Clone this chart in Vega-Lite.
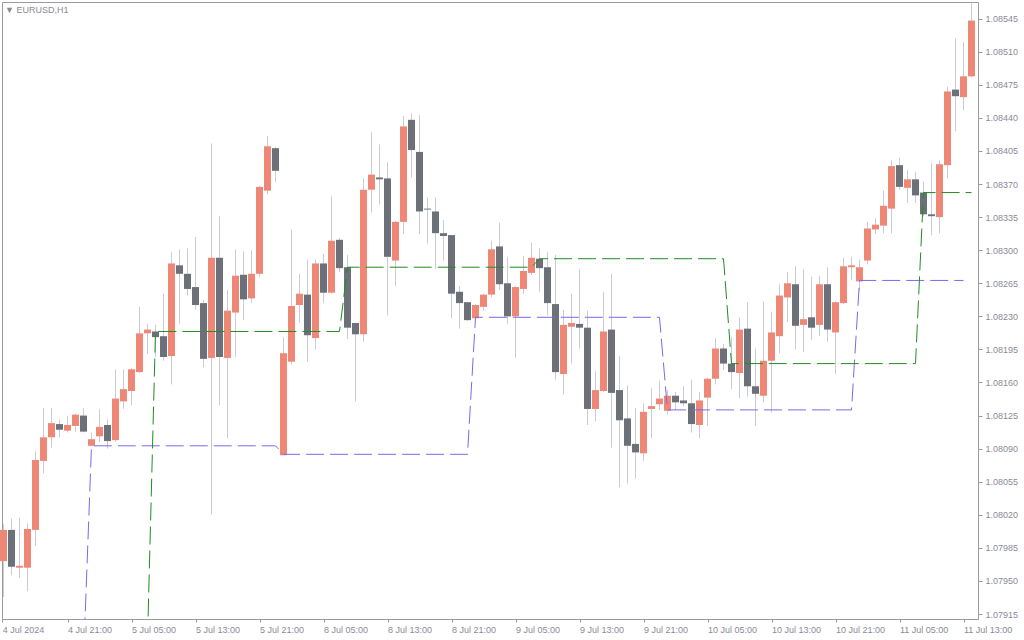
{
  "$schema": "https://vega.github.io/schema/vega-lite/v6.json",
  "width": 976,
  "height": 617,
  "autosize": "none",
  "padding": {"left": 2, "top": 2, "right": 46, "bottom": 21},
  "background": "#ffffff",
  "title": {"text": "▼  EURUSD,H1", "anchor": "start", "frame": "group", "offset": -13, "dx": 3, "fontSize": 9, "fontWeight": "normal", "font": "Liberation Sans", "color": "#8a8a96"},
  "datasets": {
    "candles": [
      {"i":0,"o":1.07971,"h":1.08010,"l":1.07933,"c":1.08004},
      {"i":1,"o":1.08004,"h":1.08016,"l":1.07956,"c":1.07965},
      {"i":2,"o":1.07964,"h":1.08017,"l":1.07953,"c":1.07966},
      {"i":3,"o":1.07964,"h":1.08011,"l":1.07939,"c":1.08005},
      {"i":4,"o":1.08004,"h":1.08087,"l":1.07987,"c":1.08078},
      {"i":5,"o":1.08077,"h":1.08133,"l":1.08064,"c":1.08102},
      {"i":6,"o":1.08102,"h":1.08133,"l":1.08091,"c":1.08117},
      {"i":7,"o":1.08116,"h":1.08121,"l":1.08102,"c":1.08110},
      {"i":8,"o":1.08109,"h":1.08125,"l":1.08107,"c":1.08115},
      {"i":9,"o":1.08114,"h":1.08127,"l":1.08108,"c":1.08126},
      {"i":10,"o":1.08125,"h":1.08133,"l":1.08107,"c":1.08108},
      {"i":11,"o":1.08093,"h":1.08107,"l":1.08093,"c":1.08100},
      {"i":12,"o":1.08103,"h":1.08132,"l":1.08097,"c":1.08113},
      {"i":13,"o":1.08115,"h":1.08121,"l":1.08090,"c":1.08098},
      {"i":14,"o":1.08099,"h":1.08174,"l":1.08097,"c":1.08143},
      {"i":15,"o":1.08140,"h":1.08174,"l":1.08132,"c":1.08153},
      {"i":16,"o":1.08151,"h":1.08175,"l":1.08136,"c":1.08174},
      {"i":17,"o":1.08171,"h":1.08240,"l":1.08170,"c":1.08212},
      {"i":18,"o":1.08212,"h":1.08222,"l":1.08190,"c":1.08216},
      {"i":19,"o":1.08214,"h":1.08221,"l":1.08187,"c":1.08208},
      {"i":20,"o":1.08209,"h":1.08254,"l":1.08183,"c":1.08187},
      {"i":21,"o":1.08188,"h":1.08298,"l":1.08158,"c":1.08286},
      {"i":22,"o":1.08284,"h":1.08301,"l":1.08222,"c":1.08275},
      {"i":23,"o":1.08275,"h":1.08302,"l":1.08252,"c":1.08259},
      {"i":24,"o":1.08261,"h":1.08314,"l":1.08237,"c":1.08242},
      {"i":25,"o":1.08244,"h":1.08247,"l":1.08176,"c":1.08185},
      {"i":26,"o":1.08186,"h":1.08413,"l":1.08020,"c":1.08292},
      {"i":27,"o":1.08292,"h":1.08336,"l":1.08136,"c":1.08187},
      {"i":28,"o":1.08186,"h":1.08258,"l":1.08101,"c":1.08236},
      {"i":29,"o":1.08234,"h":1.08301,"l":1.08187,"c":1.08273},
      {"i":30,"o":1.08274,"h":1.08299,"l":1.08226,"c":1.08248},
      {"i":31,"o":1.08249,"h":1.08300,"l":1.08244,"c":1.08275},
      {"i":32,"o":1.08275,"h":1.08368,"l":1.08271,"c":1.08367},
      {"i":33,"o":1.08363,"h":1.08421,"l":1.08359,"c":1.08410},
      {"i":34,"o":1.08408,"h":1.08409,"l":1.08372,"c":1.08384},
      {"i":35,"o":1.08083,"h":1.08208,"l":1.08083,"c":1.08191},
      {"i":36,"o":1.08182,"h":1.08322,"l":1.08179,"c":1.08241},
      {"i":37,"o":1.08242,"h":1.08275,"l":1.08223,"c":1.08254},
      {"i":38,"o":1.08253,"h":1.08290,"l":1.08182,"c":1.08210},
      {"i":39,"o":1.08207,"h":1.08290,"l":1.08195,"c":1.08286},
      {"i":40,"o":1.08286,"h":1.08296,"l":1.08244,"c":1.08255},
      {"i":41,"o":1.08255,"h":1.08357,"l":1.08254,"c":1.08310},
      {"i":42,"o":1.08311,"h":1.08313,"l":1.08277,"c":1.08281},
      {"i":43,"o":1.08282,"h":1.08295,"l":1.08206,"c":1.08218},
      {"i":44,"o":1.08223,"h":1.08223,"l":1.08140,"c":1.08211},
      {"i":45,"o":1.08211,"h":1.08376,"l":1.08203,"c":1.08364},
      {"i":46,"o":1.08364,"h":1.08425,"l":1.08340,"c":1.08380},
      {"i":47,"o":1.08377,"h":1.08412,"l":1.08348,"c":1.08375},
      {"i":48,"o":1.08376,"h":1.08393,"l":1.08231,"c":1.08293},
      {"i":49,"o":1.08289,"h":1.08331,"l":1.08262,"c":1.08330},
      {"i":50,"o":1.08330,"h":1.08442,"l":1.08317,"c":1.08431},
      {"i":51,"o":1.08438,"h":1.08445,"l":1.08377,"c":1.08406},
      {"i":52,"o":1.08404,"h":1.08443,"l":1.08317,"c":1.08341},
      {"i":53,"o":1.08344,"h":1.08356,"l":1.08307,"c":1.08343},
      {"i":54,"o":1.08341,"h":1.08356,"l":1.08280,"c":1.08318},
      {"i":55,"o":1.08318,"h":1.08332,"l":1.08289,"c":1.08315},
      {"i":56,"o":1.08316,"h":1.08316,"l":1.08228,"c":1.08254},
      {"i":57,"o":1.08256,"h":1.08262,"l":1.08217,"c":1.08244},
      {"i":58,"o":1.08245,"h":1.08245,"l":1.08225,"c":1.08226},
      {"i":59,"o":1.08228,"h":1.08243,"l":1.08226,"c":1.08242},
      {"i":60,"o":1.08240,"h":1.08254,"l":1.08236,"c":1.08253},
      {"i":61,"o":1.08253,"h":1.08310,"l":1.08250,"c":1.08301},
      {"i":62,"o":1.08304,"h":1.08329,"l":1.08258,"c":1.08264},
      {"i":63,"o":1.08265,"h":1.08293,"l":1.08222,"c":1.08230},
      {"i":64,"o":1.08230,"h":1.08262,"l":1.08186,"c":1.08261},
      {"i":65,"o":1.08259,"h":1.08294,"l":1.08254,"c":1.08278},
      {"i":66,"o":1.08276,"h":1.08308,"l":1.08274,"c":1.08292},
      {"i":67,"o":1.08291,"h":1.08302,"l":1.08256,"c":1.08281},
      {"i":68,"o":1.08282,"h":1.08298,"l":1.08231,"c":1.08244},
      {"i":69,"o":1.08243,"h":1.08295,"l":1.08163,"c":1.08171},
      {"i":70,"o":1.08169,"h":1.08237,"l":1.08147,"c":1.08221},
      {"i":71,"o":1.08219,"h":1.08254,"l":1.08180,"c":1.08223},
      {"i":72,"o":1.08222,"h":1.08280,"l":1.08196,"c":1.08218},
      {"i":73,"o":1.08218,"h":1.08236,"l":1.08115,"c":1.08132},
      {"i":74,"o":1.08132,"h":1.08172,"l":1.08119,"c":1.08152},
      {"i":75,"o":1.08151,"h":1.08256,"l":1.08150,"c":1.08214},
      {"i":76,"o":1.08216,"h":1.08275,"l":1.08091,"c":1.08149},
      {"i":77,"o":1.08152,"h":1.08188,"l":1.08049,"c":1.08120},
      {"i":78,"o":1.08122,"h":1.08157,"l":1.08053,"c":1.08093},
      {"i":79,"o":1.08095,"h":1.08133,"l":1.08058,"c":1.08086},
      {"i":80,"o":1.08085,"h":1.08138,"l":1.08077,"c":1.08129},
      {"i":81,"o":1.08132,"h":1.08154,"l":1.08101,"c":1.08135},
      {"i":82,"o":1.08137,"h":1.08162,"l":1.08131,"c":1.08143},
      {"i":83,"o":1.08130,"h":1.08152,"l":1.08126,"c":1.08146},
      {"i":84,"o":1.08146,"h":1.08150,"l":1.08131,"c":1.08139},
      {"i":85,"o":1.08141,"h":1.08156,"l":1.08135,"c":1.08138},
      {"i":86,"o":1.08138,"h":1.08163,"l":1.08107,"c":1.08116},
      {"i":87,"o":1.08115,"h":1.08150,"l":1.08101,"c":1.08141},
      {"i":88,"o":1.08144,"h":1.08165,"l":1.08114,"c":1.08164},
      {"i":89,"o":1.08164,"h":1.08207,"l":1.08158,"c":1.08196},
      {"i":90,"o":1.08196,"h":1.08201,"l":1.08173,"c":1.08180},
      {"i":91,"o":1.08180,"h":1.08208,"l":1.08153,"c":1.08171},
      {"i":92,"o":1.08170,"h":1.08229,"l":1.08143,"c":1.08216},
      {"i":93,"o":1.08217,"h":1.08245,"l":1.08145,"c":1.08156},
      {"i":94,"o":1.08156,"h":1.08196,"l":1.08114,"c":1.08148},
      {"i":95,"o":1.08146,"h":1.08246,"l":1.08139,"c":1.08183},
      {"i":96,"o":1.08183,"h":1.08235,"l":1.08128,"c":1.08213},
      {"i":97,"o":1.08209,"h":1.08264,"l":1.08191,"c":1.08252},
      {"i":98,"o":1.08250,"h":1.08277,"l":1.08224,"c":1.08265},
      {"i":99,"o":1.08264,"h":1.08283,"l":1.08195,"c":1.08220},
      {"i":100,"o":1.08221,"h":1.08280,"l":1.08192,"c":1.08227},
      {"i":101,"o":1.08229,"h":1.08272,"l":1.08205,"c":1.08218},
      {"i":102,"o":1.08221,"h":1.08273,"l":1.08209,"c":1.08264},
      {"i":103,"o":1.08264,"h":1.08282,"l":1.08203,"c":1.08216},
      {"i":104,"o":1.08213,"h":1.08246,"l":1.08169,"c":1.08245},
      {"i":105,"o":1.08244,"h":1.08292,"l":1.08243,"c":1.08283},
      {"i":106,"o":1.08282,"h":1.08293,"l":1.08268,"c":1.08284},
      {"i":107,"o":1.08267,"h":1.08290,"l":1.08257,"c":1.08282},
      {"i":108,"o":1.08289,"h":1.08330,"l":1.08285,"c":1.08323},
      {"i":109,"o":1.08322,"h":1.08334,"l":1.08317,"c":1.08327},
      {"i":110,"o":1.08326,"h":1.08363,"l":1.08318,"c":1.08347},
      {"i":111,"o":1.08344,"h":1.08395,"l":1.08318,"c":1.08389},
      {"i":112,"o":1.08390,"h":1.08398,"l":1.08364,"c":1.08367},
      {"i":113,"o":1.08366,"h":1.08385,"l":1.08350,"c":1.08375},
      {"i":114,"o":1.08375,"h":1.08383,"l":1.08350,"c":1.08358},
      {"i":115,"o":1.08361,"h":1.08373,"l":1.08336,"c":1.08338},
      {"i":116,"o":1.08338,"h":1.08392,"l":1.08316,"c":1.08336},
      {"i":117,"o":1.08335,"h":1.08395,"l":1.08318,"c":1.08391},
      {"i":118,"o":1.08390,"h":1.08473,"l":1.08376,"c":1.08468},
      {"i":119,"o":1.08470,"h":1.08524,"l":1.08426,"c":1.08463},
      {"i":120,"o":1.08462,"h":1.08520,"l":1.08448,"c":1.08484},
      {"i":121,"o":1.08484,"h":1.08562,"l":1.08483,"c":1.08543}
    ],
    "lines": [
      {"s":"sup","i":10,"v":1.07867},
      {"s":"sup","i":11,"v":1.08093},
      {"s":"sup","i":34,"v":1.08093},
      {"s":"sup","i":35,"v":1.08084},
      {"s":"sup","i":58,"v":1.08084},
      {"s":"sup","i":59,"v":1.08229},
      {"s":"sup","i":82,"v":1.08229},
      {"s":"sup","i":83,"v":1.08131},
      {"s":"sup","i":106,"v":1.08131},
      {"s":"sup","i":107,"v":1.08268},
      {"s":"sup","i":120,"v":1.08268},
      {"s":"res","i":18,"v":1.07887},
      {"s":"res","i":19,"v":1.08214},
      {"s":"res","i":42,"v":1.08214},
      {"s":"res","i":43,"v":1.08282},
      {"s":"res","i":66,"v":1.08282},
      {"s":"res","i":67,"v":1.08291},
      {"s":"res","i":90,"v":1.08291},
      {"s":"res","i":91,"v":1.08180},
      {"s":"res","i":114,"v":1.08180},
      {"s":"res","i":115,"v":1.08361},
      {"s":"res","i":121,"v":1.08361}
    ]
  },
  "encoding": {
    "x": {
      "field": "i",
      "type": "quantitative",
      "scale": {"domain": [-0.1875, 121.8125], "nice": false, "zero": false, "padding": 0},
      "axis": {
        "orient": "bottom",
        "title": null,
        "grid": false,
        "values": [-0.15, 8, 16, 24, 32, 40, 48, 56, 64, 72, 80, 88, 96, 104, 112, 120],
        "labelExpr": "['4 Jul 2024','4 Jul 21:00','5 Jul 05:00','5 Jul 13:00','5 Jul 21:00','8 Jul 05:00','8 Jul 13:00','8 Jul 21:00','9 Jul 05:00','9 Jul 13:00','9 Jul 21:00','10 Jul 05:00','10 Jul 13:00','10 Jul 21:00','11 Jul 05:00','11 Jul 13:00'][round(datum.value / 8)]",
        "labelAlign": "left",
        "labelBaseline": "top",
        "tickSize": 3,
        "labelPadding": 3,
        "labelFlush": false,
        "labelOverlap": false
      }
    }
  },
  "layer": [
    {
      "data": {"name": "candles"},
      "mark": {"type": "rule", "color": "#c8ccd4", "strokeWidth": 1},
      "encoding": {
        "y": {"field": "l", "type": "quantitative", "scale": {"domain": [1.0790971, 1.0856267], "nice": false, "zero": false, "padding": 0},
              "axis": {"orient": "right", "title": null, "grid": false, "format": ".5f", "tickSize": 4, "labelPadding": 3, "labelFlush": false, "labelOverlap": false,
                       "values": [1.07915, 1.0795, 1.07985, 1.0802, 1.08055, 1.0809, 1.08125, 1.0816, 1.08195, 1.0823, 1.08265, 1.083, 1.08335, 1.0837, 1.08405, 1.0844, 1.08475, 1.0851, 1.08545]}},
        "y2": {"field": "h"}
      }
    },
    {
      "data": {"name": "candles"},
      "mark": {"type": "bar", "size": 7},
      "encoding": {
        "y": {"field": "o", "type": "quantitative", "scale": {"domain": [1.0790971, 1.0856267], "nice": false, "zero": false, "padding": 0},
              "axis": {"orient": "right", "title": null, "grid": false, "format": ".5f", "tickSize": 4, "labelPadding": 3, "labelFlush": false, "labelOverlap": false,
                       "values": [1.07915, 1.0795, 1.07985, 1.0802, 1.08055, 1.0809, 1.08125, 1.0816, 1.08195, 1.0823, 1.08265, 1.083, 1.08335, 1.0837, 1.08405, 1.0844, 1.08475, 1.0851, 1.08545]}},
        "y2": {"field": "c"},
        "color": {"condition": {"test": "datum.c > datum.o", "value": "#ef8777"}, "value": "#6c7179"}
      }
    },
    {
      "data": {"name": "lines"},
      "mark": {"type": "line", "strokeWidth": 1, "strokeDash": [18, 6], "clip": true, "interpolate": "linear"},
      "encoding": {
        "y": {"field": "v", "type": "quantitative", "scale": {"domain": [1.0790971, 1.0856267], "nice": false, "zero": false, "padding": 0},
              "axis": {"orient": "right", "title": null, "grid": false, "format": ".5f", "tickSize": 4, "labelPadding": 3, "labelFlush": false, "labelOverlap": false,
                       "values": [1.07915, 1.0795, 1.07985, 1.0802, 1.08055, 1.0809, 1.08125, 1.0816, 1.08195, 1.0823, 1.08265, 1.083, 1.08335, 1.0837, 1.08405, 1.0844, 1.08475, 1.0851, 1.08545]}},
        "color": {"field": "s", "type": "nominal", "scale": {"domain": ["sup", "res"], "range": ["#7b68ee", "#228b22"]}, "legend": null}
      }
    }
  ],
  "config": {
    "view": {"stroke": "#9a9aa2", "strokeWidth": 1},
    "axis": {
      "labelFont": "Liberation Sans",
      "labelFontSize": 9,
      "labelColor": "#8a8a98",
      "tickColor": "#9a9aa2",
      "domainColor": "#9a9aa2",
      "domainWidth": 1,
      "tickWidth": 1
    }
  }
}
